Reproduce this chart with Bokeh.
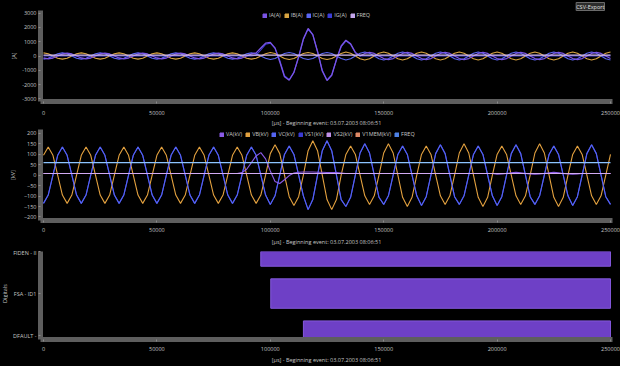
from math import pi
from bokeh.plotting import figure
from bokeh.layouts import column, row
from bokeh.models import (Range1d, FixedTicker, Legend, LegendItem, Title, Label,
                          NumeralTickFormatter, GlobalInlineStyleSheet)
from bokeh.embed import file_html
from bokeh.resources import INLINE

# ---------------- data ----------------
t_us = [
    0, 2083, 4167, 6250, 8333, 10417, 12500, 14583,
    16667, 18750, 20833, 22917, 25000, 27083, 29167, 31250,
    33333, 35417, 37500, 39583, 41667, 43750, 45833, 47917,
    50000, 52083, 54167, 56250, 58333, 60417, 62500, 64583,
    66667, 68750, 70833, 72917, 75000, 77083, 79167, 81250,
    83333, 85417, 87500, 89583, 91667, 93750, 95833, 97917,
    100000, 102083, 104167, 106250, 108333, 110417, 112500, 114583,
    116667, 118750, 120833, 122917, 125000, 127083, 129167, 131250,
    133333, 135417, 137500, 139583, 141667, 143750, 145833, 147917,
    150000, 152083, 154167, 156250, 158333, 160417, 162500, 164583,
    166667, 168750, 170833, 172917, 175000, 177083, 179167, 181250,
    183333, 185417, 187500, 189583, 191667, 193750, 195833, 197917,
    200000, 202083, 204167, 206250, 208333, 210417, 212500, 214583,
    216667, 218750, 220833, 222917, 225000, 227083, 229167, 231250,
    233333, 235417, 237500, 239583, 241667, 243750, 245833, 247917,
    250000,
]

# currents [A]
ia_a = [
    -141, -200, -141, 0, 141, 200, 141, 0,
    -141, -200, -141, 0, 141, 200, 141, 0,
    -141, -200, -141, 0, 141, 200, 141, 0,
    -141, -200, -141, 0, 141, 200, 141, 0,
    -141, -200, -141, 0, 141, 200, 141, 0,
    -141, -200, -141, 0, 141, 220, 560, 900,
    960, 550, -400, -1450, -1700, -1150, -50, 1200,
    1930, 1500, 300, -1050, -1720, -1350, -250, 700,
    1100, 850, 250, 0, 177, 250, 177, 0,
    -177, -250, -177, 0, 177, 250, 177, 0,
    -177, -250, -177, 0, 177, 250, 177, 0,
    -177, -250, -177, 0, 177, 250, 177, 0,
    -177, -250, -177, 0, 177, 250, 177, 0,
    -177, -250, -177, 0, 177, 250, 177, 0,
    -177, -250, -177, 0, 177, 250, 177, 0,
    -177,
]
ib_a = [
    220, 156, 0, -156, -220, -156, 0, 156,
    220, 156, 0, -156, -220, -156, 0, 156,
    220, 156, 0, -156, -220, -156, 0, 156,
    220, 156, 0, -156, -220, -156, 0, 156,
    220, 156, 0, -156, -220, -156, 0, 156,
    220, 156, 0, -156, -220, -156, 0, 156,
    250, 177, 0, -177, -250, -177, 0, 177,
    250, 177, 0, -177, -250, -177, 0, 177,
    280, 198, 0, -198, -280, -198, 0, 198,
    280, 198, 0, -198, -280, -198, 0, 198,
    280, 198, 0, -198, -280, -198, 0, 198,
    280, 198, 0, -198, -280, -198, 0, 198,
    280, 198, 0, -198, -280, -198, 0, 198,
    280, 198, 0, -198, -280, -198, 0, 198,
    280, 198, 0, -198, -280, -198, 0, 198,
    280,
]
ic_a = [
    -220, -156, 0, 156, 220, 156, 0, -156,
    -220, -156, 0, 156, 220, 156, 0, -156,
    -220, -156, 0, 156, 220, 156, 0, -156,
    -220, -156, 0, 156, 220, 156, 0, -156,
    -220, -156, 0, 156, 220, 156, 0, -156,
    -220, -156, 0, 156, 220, 156, 0, -156,
    -250, -177, 0, 177, 250, 177, 0, -177,
    -250, -177, 0, 177, 250, 177, 0, -177,
    -280, -198, 0, 198, 280, 198, 0, -198,
    -280, -198, 0, 198, 280, 198, 0, -198,
    -280, -198, 0, 198, 280, 198, 0, -198,
    -280, -198, 0, 198, 280, 198, 0, -198,
    -280, -198, 0, 198, 280, 198, 0, -198,
    -280, -198, 0, 198, 280, 198, 0, -198,
    -280, -198, 0, 198, 280, 198, 0, -198,
    -280,
]
ig_a = [
    0, 0, 0, 0, 0, 0, 0, 0,
    0, 0, 0, 0, 0, 0, 0, 0,
    0, 0, 0, 0, 0, 0, 0, 0,
    0, 0, 0, 0, 0, 0, 0, 0,
    0, 0, 0, 0, 0, 0, 0, 0,
    0, 0, 0, 0, 0, 60, 420, 820,
    900, 560, -300, -1380, -1650, -1150, -80, 1150,
    1880, 1480, 320, -1000, -1680, -1330, -260, 650,
    1060, 820, 230, 0, 0, 0, 0, 0,
    0, 0, 0, 0, 0, 0, 0, 0,
    0, 0, 0, 0, 0, 0, 0, 0,
    0, 0, 0, 0, 0, 0, 0, 0,
    0, 0, 0, 0, 0, 0, 0, 0,
    0, 0, 0, 0, 0, 0, 0, 0,
    0, 0, 0, 0, 0, 0, 0, 0,
    0,
]
freq_t_us = [0, 250000]
freq_hz = [60, 60]

# voltages [kV]
va_kv = [
    8, 8, 8, 8, 8, 8, 8, 8,
    8, 8, 8, 8, 8, 8, 8, 8,
    8, 8, 8, 8, 8, 8, 8, 8,
    8, 8, 8, 8, 8, 8, 8, 8,
    8, 8, 8, 8, 8, 8, 8, 8,
    8, 8, 12, 28, 60, 92, 108, 78,
    20, -30, -40, -22, -2, 10, 14, 15,
    15, 15, 14, 14, 13, 13, 12, 10,
    8, 8, 8, 8, 8, 8, 8, 8,
    8, 8, 8, 8, 8, 8, 8, 8,
    8, 8, 8, 8, 8, 8, 8, 8,
    8, 8, 8, 8, 8, 8, 8, 8,
    4, 6, 8, 11, 14, 11, 8, 6,
    4, 6, 8, 11, 14, 11, 8, 6,
    4, 6, 8, 8, 8, 8, 8, 8,
    8,
]
vb_kv = [
    95, 135, 95, 0, -95, -135, -95, 0,
    95, 135, 95, 0, -95, -135, -95, 0,
    95, 135, 95, 0, -95, -135, -95, 0,
    95, 135, 95, 0, -95, -135, -95, 0,
    95, 135, 95, 0, -95, -135, -95, 0,
    95, 135, 95, 0, -95, -135, -95, 0,
    103, 145, 103, 0, -103, -145, -103, 0,
    117, 165, 117, 0, -117, -165, -117, 0,
    99, 140, 99, 0, -99, -140, -99, 0,
    106, 150, 106, 0, -106, -150, -106, 0,
    99, 140, 99, 0, -99, -140, -99, 0,
    106, 150, 106, 0, -106, -150, -106, 0,
    99, 140, 99, 0, -99, -140, -99, 0,
    106, 150, 106, 0, -106, -150, -106, 0,
    99, 140, 99, 0, -99, -140, -99, 0,
    99,
]
vc_kv = [
    -135, -95, 0, 95, 135, 95, 0, -95,
    -135, -95, 0, 95, 135, 95, 0, -95,
    -135, -95, 0, 95, 135, 95, 0, -95,
    -135, -95, 0, 95, 135, 95, 0, -95,
    -135, -95, 0, 95, 135, 95, 0, -95,
    -135, -95, 0, 95, 135, 95, 0, -95,
    -140, -99, 0, 99, 140, 99, 0, -99,
    -165, -117, 0, 117, 165, 117, 0, -117,
    -150, -106, 0, 106, 150, 106, 0, -106,
    -140, -99, 0, 99, 140, 99, 0, -99,
    -145, -103, 0, 103, 145, 103, 0, -103,
    -140, -99, 0, 99, 140, 99, 0, -99,
    -145, -103, 0, 103, 145, 103, 0, -103,
    -140, -99, 0, 99, 140, 99, 0, -99,
    -145, -103, 0, 103, 145, 103, 0, -103,
    -140,
]
vs1_kv = vc_kv          # VS1 lies on top of VC
vs2_t_us = [0, 250000]
vs2_kv = [8, 8]
v1mem_t_us = [0, 250000]
v1mem_kv = [8, 8]

for s in (ia_a, ib_a, ic_a, ig_a, va_kv, vb_kv, vc_kv):
    assert len(s) == len(t_us), len(s)

# digital channels
digital_channels = ["DFAULT -", "FSA - ID1", "FIDEN - II"]
digital_levels = [0, 1, 2]
digital_on_us = [114600, 100200, 95800]
digital_off_us = [250000, 250000, 250000]

x_ticks = [0, 50000, 100000, 150000, 200000, 250000]
i_ticks = [-3000, -2000, -1000, 0, 1000, 2000, 3000]
v_ticks = [-200, -150, -100, -50, 0, 50, 100, 150, 200]
x_title = "[µs] - Beginning event: 03.07.2003 08:06:51"

# ---------------- styling ----------------
FONT = "Open Sans"
TXT = "#c6c6c6"
BARC = "#5e5e5e"
FS = "5.5px"
NAN = float("nan")


def make_fig(width, height, left, top, bottom, y0, y1, y_title=None, y_title_standoff=0):
    p = figure(width=width, height=height,
               x_range=Range1d(-1323, 250882), y_range=Range1d(y0, y1),
               output_backend="svg", toolbar_location=None,
               min_border_left=left, min_border_right=8,
               min_border_top=top, min_border_bottom=bottom,
               background_fill_color="#000000", border_fill_color="#000000",
               outline_line_color=None)
    p.xgrid.visible = False
    p.ygrid.visible = False
    for ax in (p.xaxis[0], p.yaxis[0]):
        ax.axis_line_color = BARC
        ax.axis_line_width = 5
        ax.minor_tick_line_color = None
        ax.major_tick_in = 0
        ax.major_tick_out = 2
        ax.major_tick_line_color = "#8a8a8a"
        ax.major_label_text_color = TXT
        ax.major_label_text_font = FONT
        ax.major_label_text_font_size = FS
        ax.axis_label_text_color = TXT
        ax.axis_label_text_font = FONT
        ax.axis_label_text_font_size = FS
        ax.axis_label_text_font_style = "normal"
    p.xaxis[0].ticker = FixedTicker(ticks=x_ticks)
    p.xaxis[0].formatter = NumeralTickFormatter(format="0")
    p.xaxis[0].axis_label = x_title
    p.yaxis[0].major_label_standoff = 2
    if y_title:
        p.yaxis[0].axis_label = y_title
        p.yaxis[0].axis_label_standoff = y_title_standoff
    return p


def add_legend(p, names, colors, loc):
    items = []
    for n, c in zip(names, colors):
        # legend swatch only (a single NaN box draws nothing in the plot)
        r = p.quad(left=[NAN], right=[NAN], top=[NAN], bottom=[NAN],
                   fill_color=c, line_color=c)
        items.append(LegendItem(label=n, renderers=[r], index=0))
    leg = Legend(items=items, orientation="horizontal", location=loc,
                 background_fill_alpha=0, border_line_color=None,
                 label_text_color=TXT, label_text_font=FONT, label_text_font_size=FS,
                 glyph_width=5, glyph_height=5, label_height=7, label_width=0,
                 label_standoff=2, spacing=3, padding=0, margin=0)
    p.add_layout(leg)


# ---- panel 1 : currents ----
p1 = make_fig(620, 129, 40, 10, 26, -3185, 3185, "[A]", 1)
p1.yaxis[0].ticker = FixedTicker(ticks=i_ticks)
p1.yaxis[0].formatter = NumeralTickFormatter(format="0")
p1.xaxis[0].major_label_standoff = 7
p1.xaxis[0].axis_label_standoff = 1
c_ia, c_ib, c_ic, c_ig, c_fr = "#7b55e6", "#d9a441", "#5a66f2", "#3c3cd6", "#d6bdf2"
lw = 1.1
p1.line(t_us, ig_a, line_color=c_ig, line_width=lw)
p1.line(t_us, ib_a, line_color=c_ib, line_width=lw)
p1.line(t_us, ic_a, line_color=c_ic, line_width=lw)
p1.line(t_us, ia_a, line_color=c_ia, line_width=1.3)
p1.line(freq_t_us, freq_hz, line_color=c_fr, line_width=1.2)
add_legend(p1, ["IA(A)", "IB(A)", "IC(A)", "IG(A)", "FREQ"],
           [c_ia, c_ib, c_ic, c_ig, "#c4a6ec"], (222, 82))
p1.add_layout(Title(text="CSV-Export", align="right", offset=8, standoff=0,
                    text_color="#e2e2e2", text_font=FONT, text_font_size="5.5px",
                    text_font_style="normal", background_fill_color="#2c2c2c",
                    border_line_color="#6a6a6a", padding=0), "above")

# ---- panel 2 : voltages ----
p2 = make_fig(620, 119, 40, 0, 25, -217, 218.5, "[kV]", 4)
p2.yaxis[0].ticker = FixedTicker(ticks=v_ticks)
p2.xaxis[0].major_label_standoff = 5
p2.xaxis[0].axis_label_standoff = 3
c_va, c_vb, c_vc, c_vs1, c_vs2, c_vm, c_f2 = ("#8a5ae6", "#e3a13f", "#5464f2", "#3a3ad2",
                                             "#d2aaf4", "#e08a66", "#8cc4ff")
p2.line(v1mem_t_us, v1mem_kv, line_color=c_vm, line_width=lw)
p2.line(t_us, vs1_kv, line_color=c_vs1, line_width=lw)
p2.line(t_us, vb_kv, line_color=c_vb, line_width=lw)
p2.line(t_us, vc_kv, line_color=c_vc, line_width=lw)
p2.line(t_us, va_kv, line_color=c_va, line_width=lw)
p2.line(vs2_t_us, vs2_kv, line_color=c_vs2, line_width=1.2)
p2.line(freq_t_us, freq_hz, line_color=c_f2, line_width=1.2)
add_legend(p2, ["VA(kV)", "VB(kV)", "VC(kV)", "VS1(kV)", "VS2(kV)", "V1MEM(kV)", "FREQ"],
           [c_va, c_vb, c_vc, c_vs1, "#c090e6", c_vm, "#4f82e6"], (179, 82))

# ---- panel 3 : digitals ----
p3 = make_fig(612, 118, 32, 3, 24, -0.092, 2)
p3.yaxis[0].ticker = FixedTicker(ticks=digital_levels)
p3.yaxis[0].major_label_overrides = {lv: nm for lv, nm in zip(digital_levels, digital_channels)}
p3.yaxis[0].major_label_standoff = 2
p3.xaxis[0].major_label_standoff = 5
p3.xaxis[0].axis_label_standoff = 2
p3.hbar(y=digital_levels, left=digital_on_us, right=digital_off_us, height=0.7,
        fill_color="#6e40c6", line_color="#8458dc", line_width=1)

# narrow strip that carries the rotated "Digitals" axis title
side = figure(width=8, height=118, output_backend="svg", toolbar_location=None,
              x_axis_location=None, y_axis_location=None, min_border=0,
              x_range=Range1d(0, 1), y_range=Range1d(0, 1),
              background_fill_color="#000000", border_fill_color="#000000",
              outline_line_color=None)
side.grid.visible = False
side.add_layout(Label(x=4, y=46, x_units="screen", y_units="screen", text="Digitals",
                      angle=pi / 2, text_align="center", text_baseline="middle",
                      text_color=TXT, text_font=FONT, text_font_size=FS))

p = column(p1, p2, row(side, p3, spacing=0), spacing=0,
           stylesheets=[GlobalInlineStyleSheet(css="html, body { background-color: #000000; }")])

open("out.html", "w").write(file_html(p, INLINE))
